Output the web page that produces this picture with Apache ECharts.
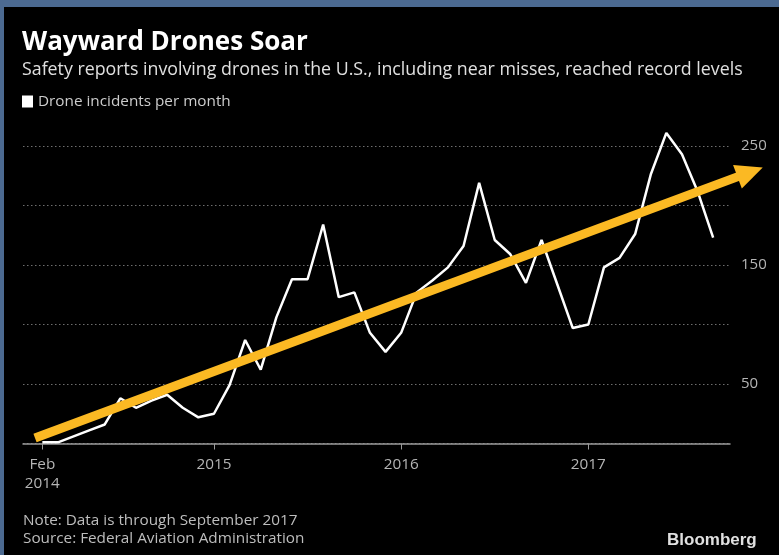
<!DOCTYPE html>
<html>
<head>
<meta charset="utf-8">
<script src="https://cdn.jsdelivr.net/npm/echarts@6/dist/echarts.min.js"></script>
<style>
  html, body { margin: 0; padding: 0; background: #000; }
  #chart { width: 779px; height: 555px; }
</style>
</head>
<body>
<div id="chart"></div>
<script>
// Month index 0 = Feb 2014 ... 43 = Sep 2017
var incidents = [1, 1, 6, 11, 16, 38, 30, 36, 41, 30, 22, 25,
                 49, 87, 62, 106, 138, 138, 184, 123, 127, 93, 77,
                 93, 127, 137, 148, 166, 219, 171, 159, 135, 171, 134, 97,
                 100, 148, 156, 176, 226, 261, 243, 212, 173];
var tickMonths = [0, 11, 23, 35];
var tickLabels = ['Feb\n2014', '2015', '2016', '2017'];
var yTicks = [50, 150, 250];
// trend arrow: tail and tip as [monthIndex, value]
var trendStart = [-0.47, 4.6];
var trendEnd = [46.18, 232];

var seriesData = incidents.map(function (v, i) { return [i, v]; });

var chart = echarts.init(document.getElementById('chart'), null, { renderer: 'canvas' });
var FONT = 'Open Sans';
var ORANGE = '#fbb923';

chart.setOption({
  backgroundColor: '#000',
  animation: false,
  title: [
    {
      text: 'Wayward Drones Soar',
      left: 17, top: 25,
      textStyle: { color: '#fff', fontFamily: FONT, fontWeight: 'bold', fontSize: 26 }
    },
    {
      text: 'Safety reports involving drones in the U.S., including near misses, reached record levels',
      left: 17, top: 56,
      textStyle: { color: '#e0e0e0', fontFamily: FONT, fontWeight: 'normal', fontSize: 17.8 }
    },
    {
      text: 'Note: Data is through September 2017\nSource: Federal Aviation Administration',
      left: 18, top: 507,
      textStyle: { color: '#bdbdbd', fontFamily: FONT, fontWeight: 'normal', fontSize: 15.3, lineHeight: 18 }
    },
    {
      text: 'Bloomberg',
      left: 662, top: 527,
      textStyle: { color: '#e0e0e0', fontFamily: 'Liberation Sans', fontWeight: 'bold', fontSize: 17 }
    }
  ],
  graphic: [
    { type: 'rect', left: 0, top: 0, shape: { width: 779, height: 7 }, style: { fill: '#4c6a91' }, silent: true },
    { type: 'rect', left: 0, top: 0, shape: { width: 4, height: 555 }, style: { fill: '#4c6a91' }, silent: true }
  ],
  legend: {
    left: 17, top: 89,
    data: ['Drone incidents per month'],
    icon: 'rect',
    itemWidth: 11, itemHeight: 12,
    itemGap: 8,
    textStyle: { color: '#cccccc', fontFamily: FONT, fontSize: 15.3 }
  },
  grid: { left: 23, right: 49, top: 146, bottom: 111.5, containLabel: false },
  xAxis: {
    type: 'value',
    min: -1.24, max: 44.08,
    splitLine: { show: false },
    axisLine: { show: true, lineStyle: { color: '#9a9a9a', width: 1.5 } },
    axisTick: { show: true, length: 6, lineStyle: { color: '#9a9a9a', width: 1 }, customValues: tickMonths },
    axisLabel: {
      customValues: tickMonths,
      color: '#b5b5b5', fontFamily: FONT, fontSize: 15.3, lineHeight: 19, margin: 12,
      formatter: function (v) { var i = tickMonths.indexOf(Math.round(v)); return i >= 0 ? tickLabels[i] : ''; }
    }
  },
  yAxis: {
    type: 'value',
    position: 'right',
    min: 0, max: 250, interval: 50,
    axisLine: { show: false },
    axisTick: { show: false },
    splitLine: { show: true, lineStyle: { color: '#6e6e6e', width: 1, type: [1.5, 2.5] } },
    axisLabel: {
      color: '#b5b5b5', fontFamily: FONT, fontSize: 15, margin: 11,
      formatter: function (v) { return yTicks.indexOf(v) >= 0 ? String(v) : ''; }
    }
  },
  series: [
    {
      name: 'Drone incidents per month',
      type: 'line',
      data: seriesData,
      showSymbol: false,
      symbol: 'none',
      clip: false,
      itemStyle: { color: '#ffffff' },
      lineStyle: { color: '#ffffff', width: 2.5 },
      z: 2
    },
    {
      name: 'trend',
      type: 'custom',
      clip: false,
      silent: true,
      z: 3,
      data: [[trendStart[0], trendStart[1], trendEnd[0], trendEnd[1]]],
      renderItem: function (params, api) {
        var p0 = api.coord([api.value(0), api.value(1)]);
        var p1 = api.coord([api.value(2), api.value(3)]);
        var dx = p1[0] - p0[0], dy = p1[1] - p0[1];
        var len = Math.sqrt(dx * dx + dy * dy);
        var ux = dx / len, uy = dy / len;
        var nx = -uy, ny = ux;
        var headLen = 27, headHalf = 12.5;
        var bx = p1[0] - ux * headLen, by = p1[1] - uy * headLen;
        return {
          type: 'group',
          children: [
            {
              type: 'line',
              shape: { x1: p0[0], y1: p0[1], x2: bx + ux * 2, y2: by + uy * 2 },
              style: { stroke: ORANGE, lineWidth: 9, lineCap: 'butt' }
            },
            {
              type: 'polygon',
              shape: { points: [
                [p1[0], p1[1]],
                [bx + nx * headHalf, by + ny * headHalf],
                [bx - nx * headHalf, by - ny * headHalf]
              ] },
              style: { fill: ORANGE }
            }
          ]
        };
      }
    }
  ]
});
</script>
</body>
</html>
